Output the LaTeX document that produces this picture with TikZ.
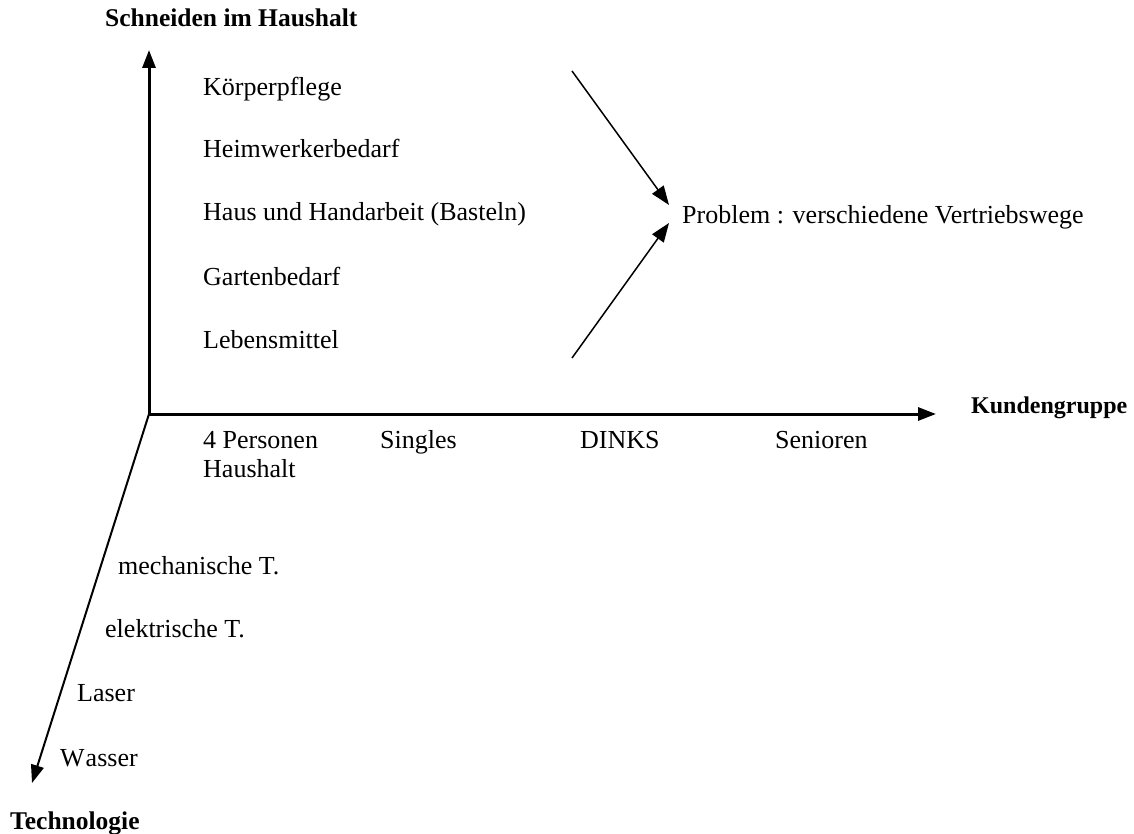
\documentclass[tikz,border=0pt]{standalone}
\usepackage{fontspec}
\setmainfont{Liberation Serif}
\usetikzlibrary{arrows.meta}
\begin{document}
\begin{tikzpicture}[x=1pt,y=-1pt,
  lbl/.style={anchor=base west,inner sep=0pt,font=\fontsize{26}{29}\selectfont},
  ttl/.style={anchor=base west,inner sep=0pt,font=\fontsize{25.5}{30}\selectfont\bfseries},
  axis/.style={line width=3pt,-{Triangle[length=18pt,width=13pt]}},
  daxis/.style={line width=2pt,-{Triangle[length=18pt,width=13pt]}},
  pointer/.style={line width=1.5pt,-{Triangle[length=19pt,width=14pt]}}]
\useasboundingbox (0,0) rectangle (1134,834);
% axes
\coordinate (O) at (149,414);
\coordinate (ytip) at (149,50);
\coordinate (xtip) at (936,414);
\coordinate (ztip) at (32,783);
\draw[axis] (O) -- (ytip);
\draw[axis] (O) -- (xtip);
\draw[daxis] (O) -- (ztip);
% titles
\node[ttl] (ty) at (105,27) {Schneiden im Haushalt};
\node[ttl,font=\fontsize{24}{28}\selectfont\bfseries] (tx) at (971,413) {Kundengruppe};
\node[ttl] (tz) at (10,829) {Technologie};
% vertical labels
\node[lbl] (k1) at (203,96) {Körperpflege};
\node[lbl] (k2) at (203,158) {Heimwerkerbedarf};
\node[lbl] (k3) at (203,221) {Haus und Handarbeit (Basteln)};
\node[lbl] (k4) at (203,285) {Gartenbedarf};
\node[lbl] (k5) at (203,348) {Lebensmittel};
% problem
\node[lbl] (prob) at (682,224) {Problem : verschiedene Vertriebswege};
\coordinate (a1s) at (572,71);
\coordinate (a1e) at (669,205);
\coordinate (a2s) at (572,358);
\coordinate (a2e) at (669,223);
\draw[pointer] (a1s) -- (a1e);
\draw[pointer] (a2s) -- (a2e);
% customer groups
\node[lbl,align=left] (c1) at (203,477) {4 Personen\\Haushalt};
\node[lbl] (c2) at (380,448) {Singles};
\node[lbl] (c3) at (580,448) {DINKS};
\node[lbl] (c4) at (775,448) {Senioren};
% technologies
\node[lbl] (t1) at (118,574) {mechanische T.};
\node[lbl] (t2) at (105,637) {elektrische T.};
\node[lbl] (t3) at (77,701) {Laser};
\node[lbl] (t4) at (60,766) {W\kern1pt asser};
\end{tikzpicture}
\end{document}
